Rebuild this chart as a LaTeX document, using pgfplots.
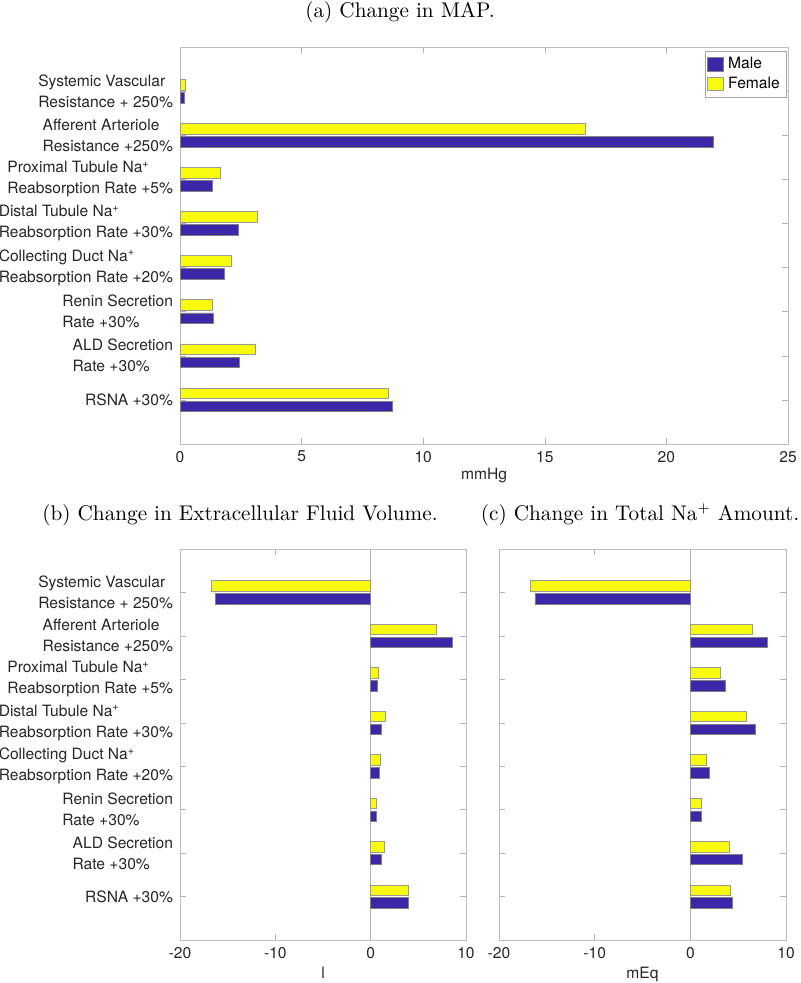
\documentclass[border=0pt]{standalone}
\usepackage{fontspec}
\newfontfamily\hv{TeX Gyre Heros}
\usepackage{pgfplots}
\pgfplotsset{compat=1.18}
\definecolor{male}{HTML}{3E26A8}
\definecolor{female}{HTML}{F9FB0E}

\pgfplotsset{
  hbars/.style={
    scale only axis, anchor=south west,
    xbar, bar width=0.24,
    ymin=0, ymax=9, ytick={1,...,8},
    axis line style={black!25},
    tick style={black!30}, tick align=inside, major tick length=3pt,
    ticklabel style={font=\hv\fontsize{7.8}{10.5}\selectfont, text=black!85},
    yticklabel style={align=left},
    label style={font=\hv\fontsize{7.8}{9}\selectfont, text=black!85},
    /pgf/number format/assume math mode=true,
  },
  male bar/.style={draw=black!50, line width=0.35pt, fill=male, bar shift=-0.148},
  female bar/.style={draw=black!40, line width=0.35pt, fill=female, bar shift=0.148},
  catlabels/.style={
    yticklabels={{RSNA +30\%},
      {ALD Secretion\\Rate +30\%},
      {Renin Secretion\\Rate +30\%},
      {Collecting Duct Na\textsuperscript{+}\\Reabsorption Rate +20\%},
      {Distal Tubule Na\textsuperscript{+}\\Reabsorption Rate +30\%},
      {Proximal Tubule Na\textsuperscript{+}\\Reabsorption Rate +5\%},
      {Afferent Arteriole\\Resistance +250\%},
      {Systemic Vascular\\Resistance + 250\%}},
  },
}

\begin{document}
\begin{tikzpicture}
% (a) change in MAP
\begin{axis}[hbars, catlabels,
    at={(90pt,269.5pt)}, width=304pt, height=198.5pt,
    xmin=0, xmax=25, xtick={0,5,10,15,20,25},
    xlabel={mmHg}, xlabel style={yshift=4pt},
    legend style={at={(rel axis cs:0.997,0.99)}, anchor=north east,
      font=\hv\fontsize{7.8}{9}\selectfont, draw=black!35, outer sep=0pt,
      inner sep=1.2pt, row sep=-1.5pt, cells={anchor=west}},
    legend image code/.code={\draw[#1, bar shift=0pt] (0pt,-3.2pt) rectangle (8pt,3.4pt);},
]
\addplot[male bar] coordinates {
  (8.73,1) (2.43,2) (1.37,3) (1.81,4) (2.40,5) (1.33,6) (21.94,7) (0.18,8)};
\addplot[female bar] coordinates {
  (8.56,1) (3.10,2) (1.34,3) (2.10,4) (3.18,5) (1.64,6) (16.65,7) (0.23,8)};
\legend{Male, Female}
\end{axis}

% (b) change in extracellular fluid volume
\begin{axis}[hbars, catlabels,
    at={(90pt,21.5pt)}, width=143pt, height=195.5pt,
    xmin=-20, xmax=10, xtick={-20,-10,0,10},
    xlabel={l}, xlabel style={yshift=2.5pt},
]
\draw[black!30, line width=0.4pt] (axis cs:0,0) -- (axis cs:0,9);
\addplot[male bar] coordinates {
  (3.93,1) (1.15,2) (0.61,3) (0.86,4) (1.15,5) (0.66,6) (8.59,7) (-16.32,8)};
\addplot[female bar] coordinates {
  (3.93,1) (1.48,2) (0.61,3) (0.97,4) (1.50,5) (0.80,6) (6.88,7) (-16.74,8)};
\end{axis}

% (c) change in total Na+ amount
\begin{axis}[hbars,
    at={(249.5pt,21.5pt)}, width=143.5pt, height=195.5pt,
    xmin=-20, xmax=10, xtick={-20,-10,0,10},
    yticklabels={},
    xlabel={mEq}, xlabel style={yshift=2.5pt},
]
\draw[black!30, line width=0.4pt] (axis cs:0,0) -- (axis cs:0,9);
\addplot[male bar] coordinates {
  (4.37,1) (5.41,2) (1.19,3) (1.96,4) (6.78,5) (3.67,6) (8.07,7) (-16.24,8)};
\addplot[female bar] coordinates {
  (4.23,1) (4.12,2) (1.12,3) (1.68,4) (5.83,5) (3.14,6) (6.53,7) (-16.70,8)};
\end{axis}

\node[font=\fontsize{10.6}{12}\selectfont] at (200pt,485.5pt) {(a) Change in MAP.};
\node[font=\fontsize{10.6}{12}\selectfont] at (120pt,234pt) {(b) Change in Extracellular Fluid Volume.};
\node[font=\fontsize{10.6}{12}\selectfont] at (320pt,234pt) {(c) Change in Total Na$^+$ Amount.};

\pgfresetboundingbox
\path (0,0) rectangle (400pt,491.5pt);
\end{tikzpicture}
\end{document}
